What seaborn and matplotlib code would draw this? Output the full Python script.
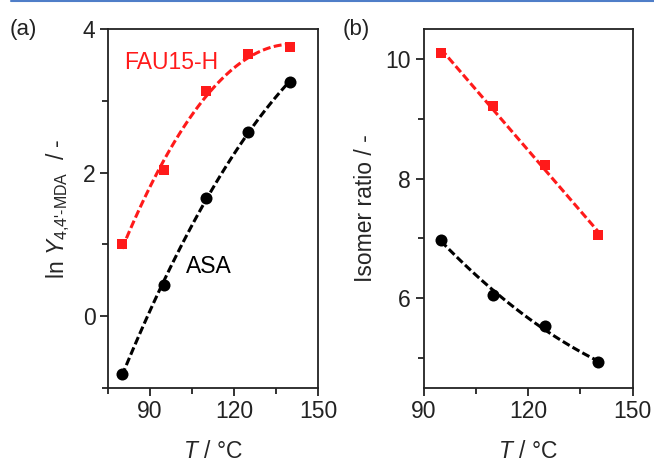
import numpy as np
import pandas as pd
import matplotlib
matplotlib.use("Agg")
import matplotlib.pyplot as plt
import seaborn as sns
from matplotlib.lines import Line2D
from matplotlib.ticker import MultipleLocator

# --- data ---
temp_a = [80, 95, 110, 125, 140]
lnY_fau = [1.00, 2.03, 3.13, 3.65, 3.75]
lnY_asa = [-0.80, 0.43, 1.65, 2.57, 3.26]

temp_b = [95, 110, 125, 140]
ratio_fau = [10.10, 9.21, 8.22, 7.05]
ratio_asa = [6.98, 6.06, 5.54, 4.93]

RED = "#ff1a1a"
BLACK = "black"
FS = 16.5

sns.set_theme(style="ticks")
plt.rcParams["font.family"] = ["Liberation Sans", "DejaVu Sans"]
plt.rcParams["mathtext.fontset"] = "custom"
plt.rcParams["mathtext.rm"] = "Liberation Sans"
plt.rcParams["mathtext.it"] = "Liberation Sans:italic"

df_a = pd.DataFrame({"T": temp_a, "fau": lnY_fau, "asa": lnY_asa})
df_b = pd.DataFrame({"T": temp_b, "fau": ratio_fau, "asa": ratio_asa})

fig = plt.figure(figsize=(6.54, 4.62), dpi=100)
ax1 = fig.add_axes([108 / 654, 1 - 388 / 462, 210 / 654, 359 / 462])
ax2 = fig.add_axes([423.5 / 654, 1 - 388 / 462, 209 / 654, 359 / 462])


# scatter + polynomial fit drawn as dashed curve
def draw_series(ax, df, col, color, marker, order, ms):
    sns.regplot(data=df, x="T", y=col, ax=ax, order=order, ci=None, truncate=True,
                marker=marker,
                scatter_kws={"color": color, "s": ms, "zorder": 3, "alpha": 1,
                             "linewidths": 0},
                line_kws={"color": color, "ls": (0, (2.6, 1.1)), "lw": 2.2, "zorder": 2})


draw_series(ax1, df_a, "fau", RED, "s", 2, 60)
draw_series(ax1, df_a, "asa", BLACK, "o", 2, 75)
draw_series(ax2, df_b, "fau", RED, "s", 1, 60)
draw_series(ax2, df_b, "asa", BLACK, "o", 2, 75)

ax1.set_xlim(75, 150)
ax1.set_ylim(-1, 4)
ax2.set_xlim(90, 150)
ax2.set_ylim(4.5, 10.5)

for ax in (ax1, ax2):
    ax.xaxis.set_major_locator(MultipleLocator(30))
    ax.xaxis.set_minor_locator(MultipleLocator(15))
    ax.yaxis.set_major_locator(MultipleLocator(2))
    ax.yaxis.set_minor_locator(MultipleLocator(1))
    for sp in ax.spines.values():
        sp.set_visible(True)
        sp.set_color("#222222")
        sp.set_linewidth(1.3)
    ax.tick_params(which="major", direction="out", length=6, width=1.3,
                   labelsize=FS, colors="#222222", pad=3)
    ax.tick_params(which="minor", direction="out", length=4, width=1.3, colors="#222222")
    ax.set_xlabel(r"$\it{T}$ / °C", fontsize=FS, labelpad=12)

ax1.set_ylabel(r"ln $\it{Y}_{\text{4,4'-MDA}}$  / -", fontsize=FS, labelpad=8)
ax2.set_ylabel("Isomer ratio / -", fontsize=FS, labelpad=6)

ax1.text(80.7, 3.54, "FAU15-H", color=RED, fontsize=FS, ha="left", va="center")
ax1.text(102.8, 0.69, "ASA", color=BLACK, fontsize=FS, ha="left", va="center")

fig.text(10 / 654, 1 - 29 / 462, "(a)", fontsize=16, color="#222222", va="center")
fig.text(343 / 654, 1 - 29 / 462, "(b)", fontsize=16, color="#222222", va="center")

fig.add_artist(Line2D([11 / 654, 1], [1 - 1 / 462, 1 - 1 / 462], color="#4f7ec8", lw=1.5))

fig.savefig("out.png", dpi=100)
